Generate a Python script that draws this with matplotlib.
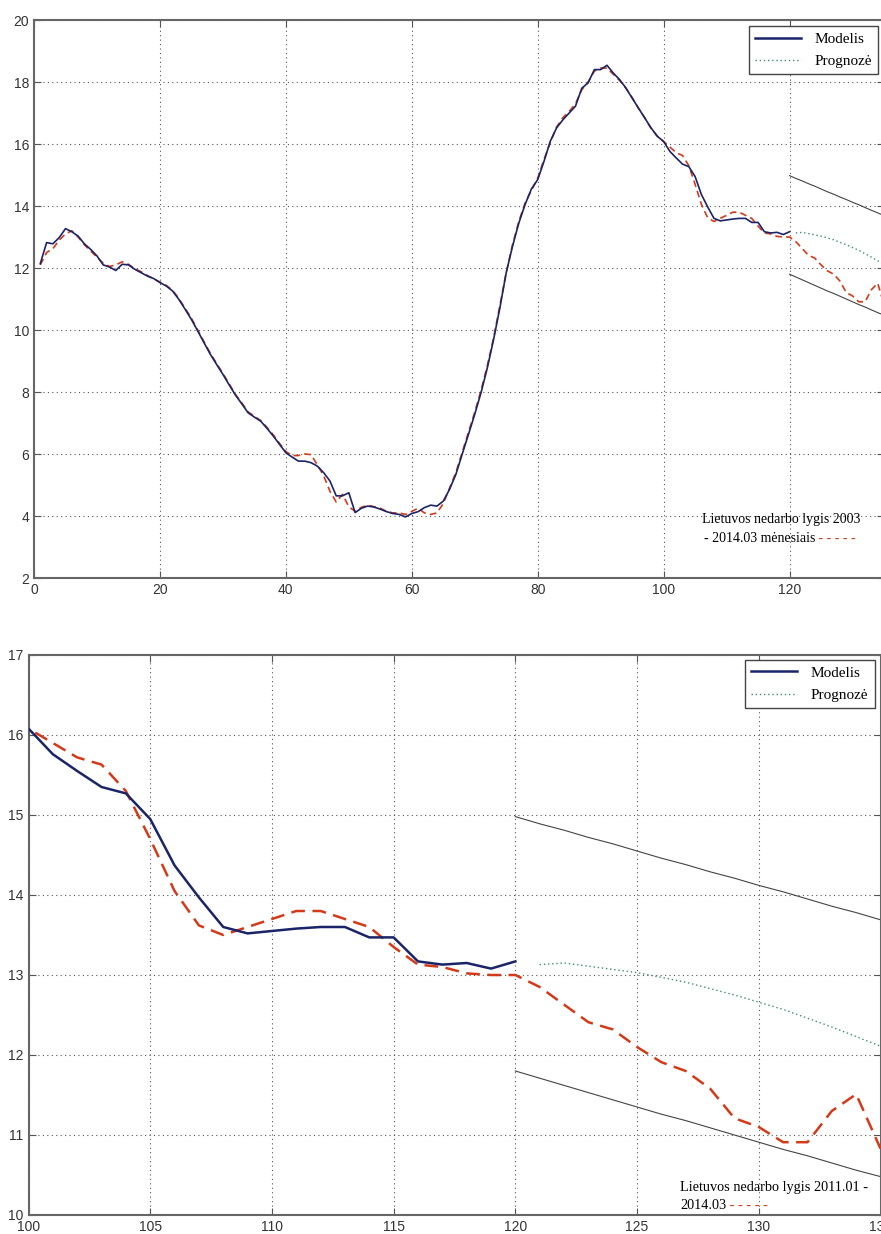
import numpy as np
import matplotlib.pyplot as plt
from matplotlib.lines import Line2D

# ---- data (monthly index, 2003.01 = 1) ----
model = [12.14, 12.82, 12.78, 12.98, 13.27, 13.17, 13.03, 12.78, 12.60, 12.39,
         12.10, 12.03, 11.92, 12.12, 12.10, 11.96, 11.85, 11.74, 11.66, 11.53,
         11.42, 11.26, 10.99, 10.67, 10.34, 9.97, 9.59, 9.22, 8.89, 8.57,
         8.23, 7.90, 7.62, 7.33, 7.19, 7.06, 6.83, 6.58, 6.31, 6.04,
         5.90, 5.77, 5.77, 5.72, 5.61, 5.40, 5.13, 4.65, 4.65, 4.75,
         4.11, 4.25, 4.32, 4.29, 4.22, 4.14, 4.08, 4.05, 3.97, 4.08,
         4.14, 4.27, 4.35, 4.32, 4.48, 4.86, 5.34, 5.99, 6.63, 7.28,
         7.98, 8.78, 9.70, 10.72, 11.85, 12.70, 13.45, 14.05, 14.55, 14.85,
         15.44, 16.09, 16.52, 16.78, 17.00, 17.22, 17.80, 17.97, 18.40, 18.40,
         18.54, 18.29, 18.08, 17.81, 17.48, 17.16, 16.84, 16.52, 16.25, 16.08,
         15.76, 15.55, 15.35, 15.27, 14.95, 14.37, 13.97, 13.60, 13.52, 13.55,
         13.58, 13.60, 13.60, 13.47, 13.47, 13.17, 13.13, 13.15, 13.08, 13.17]

actual = [12.10, 12.50, 12.62, 12.90, 13.10, 13.20, 13.00, 12.75, 12.55, 12.35,
          12.15, 12.05, 12.10, 12.20, 12.12, 11.98, 11.88, 11.76, 11.65, 11.55,
          11.44, 11.28, 11.02, 10.70, 10.38, 10.00, 9.62, 9.25, 8.92, 8.60,
          8.26, 7.92, 7.65, 7.36, 7.22, 7.08, 6.86, 6.62, 6.34, 6.08,
          5.95, 5.95, 6.00, 5.98, 5.65, 5.30, 4.80, 4.45, 4.70, 4.30,
          4.15, 4.28, 4.35, 4.30, 4.25, 4.15, 4.10, 4.10, 4.05, 4.15,
          4.25, 4.10, 4.05, 4.10, 4.40, 4.90, 5.40, 6.05, 6.70, 7.35,
          8.05, 8.85, 9.75, 10.80, 11.85, 12.75, 13.50, 14.10, 14.50, 14.90,
          15.50, 16.05, 16.55, 16.85, 17.05, 17.30, 17.75, 18.00, 18.35, 18.45,
          18.45, 18.25, 18.05, 17.80, 17.50, 17.15, 16.85, 16.50, 16.25, 16.08,
          15.90, 15.72, 15.63, 15.30, 14.70, 14.05, 13.62, 13.50, 13.60, 13.70,
          13.80, 13.80, 13.70, 13.60, 13.35, 13.13, 13.10, 13.02, 13.00, 13.00,
          12.85, 12.63, 12.41, 12.32, 12.10, 11.91, 11.80, 11.58, 11.21, 11.10,
          10.91, 10.91, 11.30, 11.51, 10.83]

forecast = [13.13, 13.15, 13.11, 13.07, 13.03, 12.97, 12.91, 12.83, 12.75, 12.66,
            12.57, 12.46, 12.35, 12.23, 12.11]

upper = [14.98, 14.89, 14.81, 14.72, 14.64, 14.55, 14.46, 14.38, 14.29, 14.21,
         14.12, 14.04, 13.95, 13.86, 13.78, 13.69]
lower = [11.80, 11.71, 11.62, 11.53, 11.44, 11.35, 11.26, 11.18, 11.09, 11.00,
         10.91, 10.82, 10.74, 10.65, 10.56, 10.48]

t_model = np.arange(1, len(model) + 1)
t_actual = np.arange(1, len(actual) + 1)
t_fc = np.arange(121, 121 + len(forecast))
t_bounds = np.arange(120, 120 + len(upper))

NAVY = "#1b2468"
RED = "#d43a18"
GREEN = "#3f8a7a"
BOUND = "#444444"

plt.rcParams["font.family"] = ["Liberation Sans", "DejaVu Sans"]

fig = plt.figure(figsize=(8.81, 12.34), dpi=100)
W, H = 881.0, 1234.0

ax1 = fig.add_axes([34 / W, 1 - 578 / H, 850 / W, 558 / H])
ax2 = fig.add_axes([28.5 / W, 1 - 1215 / H, 852 / W, 560 / H])


def style(ax):
    ax.grid(True, linestyle=(0, (1, 3)), color="#555555", linewidth=0.8)
    ax.tick_params(direction="in", top=True, right=True, length=5,
                   labelsize=10, labelcolor="#333333", color="#555555")
    for s in ax.spines.values():
        s.set_color("#666666")
        s.set_linewidth(1.5)


def draw(ax, lw, dash):
    ax.plot(t_model, model, color=NAVY, linewidth=lw, zorder=4)
    ax.plot(t_actual, actual, color=RED, linewidth=lw, dashes=dash, zorder=3)
    ax.plot(t_fc, forecast, color=GREEN, linewidth=1.0,
            linestyle=(0, (1, 2)), zorder=3)
    ax.plot(t_bounds, upper, color=BOUND, linewidth=0.8, zorder=2)
    ax.plot(t_bounds, lower, color=BOUND, linewidth=0.8, zorder=2)


def legend(ax, anchor):
    handles = [Line2D([], [], color=NAVY, linewidth=1.8),
               Line2D([], [], color=GREEN, linewidth=1.0, linestyle=(0, (1, 2)))]
    leg = ax.legend(handles, ["Modelis", "Prognozė"], loc="upper right",
                    bbox_to_anchor=anchor, borderaxespad=0, fancybox=False,
                    handlelength=3.0, handletextpad=0.9, borderpad=0.4,
                    labelspacing=0.55,
                    prop={"family": "Liberation Serif", "size": 11},
                    edgecolor="#444444", framealpha=1)
    leg.get_frame().set_linewidth(1.0)


# ---- top: whole period ----
draw(ax1, 1.2, (4, 2.5))
style(ax1)
ax1.set_xlim(0, 135)
ax1.set_ylim(2, 20)
ax1.set_xticks(np.arange(0, 121, 20))
ax1.set_yticks(np.arange(2, 21, 2))
legend(ax1, (0.993, 0.989))

serif = {"family": "Liberation Serif", "size": 10}
ax1.text(0.786, 0.104, "Lietuvos nedarbo lygis 2003", transform=ax1.transAxes,
         va="center", ha="left", fontdict=serif)
tl = ax1.text(0.788, 0.070, "- 2014.03 mėnesiais", transform=ax1.transAxes,
              va="center", ha="left", fontdict=serif)
ax1.annotate(" - - - - -", xy=(1, 0.5), xycoords=tl, va="center", ha="left",
             color=RED, fontsize=10, family="Liberation Serif")

# ---- bottom: zoom on 2011-2014 ----
draw(ax2, 1.8, (5.5, 3))
style(ax2)
ax2.set_xlim(100, 135)
ax2.set_ylim(10, 17)
ax2.set_xticks(np.arange(100, 136, 5))
ax2.set_yticks(np.arange(10, 18, 1))
legend(ax2, (0.993, 0.991))

serif2 = {"family": "Liberation Serif", "size": 10.3}
ax2.text(0.765, 0.050, "Lietuvos nedarbo lygis 2011.01 -", transform=ax2.transAxes,
         va="center", ha="left", fontdict=serif2)
tb = ax2.text(0.765, 0.017, "2014.03", transform=ax2.transAxes,
              va="center", ha="left", fontdict=serif2)
ax2.annotate(" - - - - -", xy=(1, 0.5), xycoords=tb, va="center", ha="left",
             color=RED, fontsize=10.3, family="Liberation Serif")

fig.savefig("out.png", dpi=100)
